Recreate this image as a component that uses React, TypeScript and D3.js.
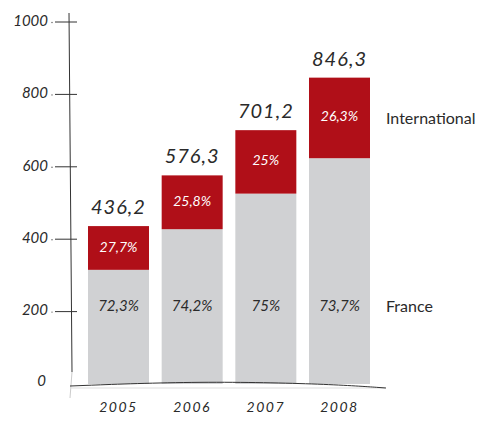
import * as d3 from "d3";

const years = ["2005", "2006", "2007", "2008"];
const totals = [436.2, 576.3, 701.2, 846.3];
const totalLabels = ["436,2", "576,3", "701,2", "846,3"];
const francePct = [72.3, 74.2, 75, 73.7];
const francePctLabels = ["72,3%", "74,2%", "75%", "73,7%"];
const intlPctLabels = ["27,7%", "25,8%", "25%", "26,3%"];
const yTicks = [0, 200, 400, 600, 800, 1000];

const RED = "#b00f18";
const GREY = "#d0d1d3";
const INK = "#2a2a2a";
const HAND = "'Lato', 'Open Sans', sans-serif";

export default function App() {
  const width = 481;
  const height = 421;

  const x = d3.scaleBand<string>().domain(years).range([88, 370]).paddingInner(0.172).paddingOuter(0);
  const y = d3.scaleLinear().domain([0, 1000]).range([384, 22]);

  const rows = years.map((yr, i) => {
    const france = (totals[i] * francePct[i]) / 100;
    return { yr, total: totals[i], france, i };
  });

  const baseline = d3.line().curve(d3.curveBasis)([
    [70, 386],
    [200, 381],
    [330, 384],
    [386, 388],
  ]);

  return (
    <svg
      width={width}
      height={height}
      style={{ position: "absolute", left: 0, top: 0, background: "#fff" }}
    >
      {/* axis line */}
      <line x1={69} y1={13} x2={72} y2={372} stroke="#333" strokeWidth={1} />
      <line x1={72} y1={372} x2={70} y2={398} stroke="#ccc" strokeWidth={1} />

      {/* y ticks */}
      {yTicks.map((t) => (
        <g key={t} transform={`translate(0,${y(t)})`}>
          {t > 0 && <line x1={55} x2={77} stroke="#333" strokeWidth={1} />}
          {t > 0 && <circle cx={52} cy={0.5} r={0.7} fill="#555" />}
          <text
            x={t > 0 ? 48 : 46}
            y={t > 0 ? 0 : -2}
            textAnchor="end"
            dominantBaseline="middle"
            fontFamily={HAND}
            fontStyle="italic"
            fontSize={15}
            fill="#2a2a2a"
          >
            {t}
          </text>
        </g>
      ))}

      {/* bars */}
      {rows.map((r) => (
        <g key={r.yr}>
          <rect x={x(r.yr)} y={y(r.france)} width={x.bandwidth()} height={y(0) - y(r.france)} fill={GREY} />
          <rect x={x(r.yr)} y={y(r.total)} width={x.bandwidth()} height={y(r.france) - y(r.total)} fill={RED} />
          <text
            x={(x(r.yr) ?? 0) + x.bandwidth() / 2}
            y={(y(r.total) + y(r.france)) / 2}
            textAnchor="middle"
            dominantBaseline="middle"
            fontFamily={HAND}
            fontStyle="italic"
            fontSize={14}
            fill="#fff"
          >
            {intlPctLabels[r.i]}
          </text>
          <text
            x={(x(r.yr) ?? 0) + x.bandwidth() / 2}
            y={307}
            textAnchor="middle"
            dominantBaseline="middle"
            fontFamily={HAND}
            fontStyle="italic"
            fontSize={15}
            fill={INK}
          >
            {francePctLabels[r.i]}
          </text>
          <text
            x={(x(r.yr) ?? 0) + x.bandwidth() / 2}
            y={y(r.total) - 12}
            textAnchor="middle"
            fontFamily={HAND}
            fontStyle="italic"
            fontSize={20}
            letterSpacing={1}
            fill={INK}
          >
            {totalLabels[r.i]}
          </text>
          <text
            x={(x(r.yr) ?? 0) + x.bandwidth() / 2}
            y={408}
            textAnchor="middle"
            dominantBaseline="middle"
            fontFamily={HAND}
            fontStyle="italic"
            fontSize={14}
            letterSpacing={1.5}
            fill={INK}
          >
            {r.yr}
          </text>
        </g>
      ))}

      {/* baseline */}
      <line x1={70} y1={388} x2={385} y2={388} stroke="#ddd" strokeWidth={1} />
      <path d={baseline ?? ""} fill="none" stroke="#333" strokeWidth={1} />

      {/* series labels */}
      <text x={386} y={120} dominantBaseline="middle" fontFamily="'Lato', sans-serif" fontSize={16} fill={INK}>
        International
      </text>
      <text x={386} y={308} dominantBaseline="middle" fontFamily="'Lato', sans-serif" fontSize={16} fill={INK}>
        France
      </text>
    </svg>
  );
}
